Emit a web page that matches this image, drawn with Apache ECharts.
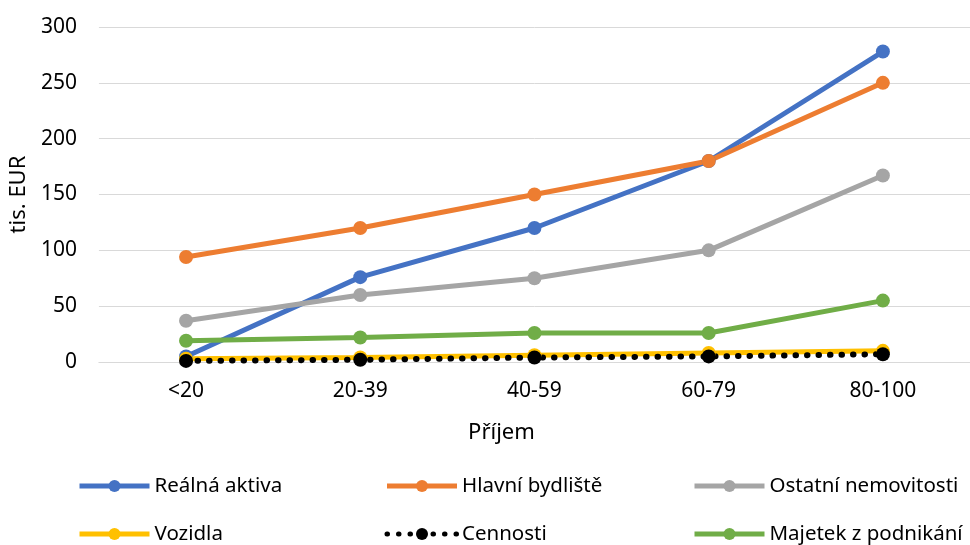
<!DOCTYPE html>
<html>
<head>
<meta charset="utf-8">
<script src="https://cdn.jsdelivr.net/npm/echarts@6/dist/echarts.min.js"></script>
<style>
  html, body { margin: 0; padding: 0; background: #fff; }
  #chart { width: 970px; height: 545px; }
</style>
</head>
<body>
<div id="chart"></div>
<script>
  var categories = ['<20', '20-39', '40-59', '60-79', '80-100'];
  var realnaAktiva = [5, 76, 120, 180, 278];
  var hlavniBydliste = [94, 120, 150, 180, 250];
  var ostatniNemovitosti = [37, 60, 75, 100, 167];
  var vozidla = [3, 4, 6, 8, 10];
  var cennosti = [1, 2, 4, 5, 7];
  var majetekPodnikani = [19, 22, 26, 26, 55];
  var yTicks = [0, 50, 100, 150, 200, 250, 300];

  var font = '"Noto Sans", sans-serif';

  function line(name, data, color, extra) {
    var s = {
      name: name,
      type: 'line',
      data: data,
      symbol: 'circle',
      symbolSize: 14,
      itemStyle: { color: color },
      lineStyle: { color: color, width: 5 }
    };
    if (extra) {
      for (var k in extra) s[k] = extra[k];
    }
    return s;
  }

  var myChart = echarts.init(document.getElementById('chart'));
  myChart.setOption({
    animation: false,
    grid: { left: 97, right: -9, top: 27, bottom: 183 },
    xAxis: {
      type: 'category',
      data: categories,
      name: 'Příjem',
      nameLocation: 'middle',
      nameGap: 60,
      nameTextStyle: { fontFamily: font, fontSize: 22, color: '#000', padding: [0, 66, 0, 0] },
      axisLine: { lineStyle: { color: '#D9D9D9', width: 1 } },
      axisTick: { show: false },
      axisLabel: { fontFamily: font, fontSize: 21, color: '#000', margin: 19 }
    },
    yAxis: {
      type: 'value',
      min: yTicks[0],
      max: yTicks[yTicks.length - 1],
      interval: 50,
      name: 'tis. EUR',
      nameLocation: 'middle',
      nameGap: 62,
      nameTextStyle: { fontFamily: font, fontSize: 22, color: '#000' },
      axisLine: { show: false },
      axisTick: { show: false },
      axisLabel: { fontFamily: font, fontSize: 21, color: '#000', margin: 22 },
      splitLine: { lineStyle: { color: '#D9D9D9', width: 1 } }
    },
    legend: {
      left: 77,
      top: 474,
      padding: 0,
      width: 920,
      itemWidth: 70,
      itemHeight: 15,
      itemGap: 24,
      lineStyle: { width: 5 },
      textStyle: { fontFamily: font, fontSize: 20.5, color: '#000', width: 206, lineHeight: 24 },
      data: ['Reálná aktiva', 'Hlavní bydliště', 'Ostatní nemovitosti', 'Vozidla', 'Cennosti', 'Majetek z podnikání']
    },
    series: [
      line('Reálná aktiva', realnaAktiva, '#4472C4'),
      line('Hlavní bydliště', hlavniBydliste, '#ED7D31'),
      line('Ostatní nemovitosti', ostatniNemovitosti, '#A5A5A5'),
      line('Majetek z podnikání', majetekPodnikani, '#70AD47'),
      line('Vozidla', vozidla, '#FFC000'),
      line('Cennosti', cennosti, '#000000', {
        symbolSize: 14,
        lineStyle: { color: '#000', width: 6, type: [0.5, 11], cap: 'round' }
      })
    ]
  });
</script>
</body>
</html>
